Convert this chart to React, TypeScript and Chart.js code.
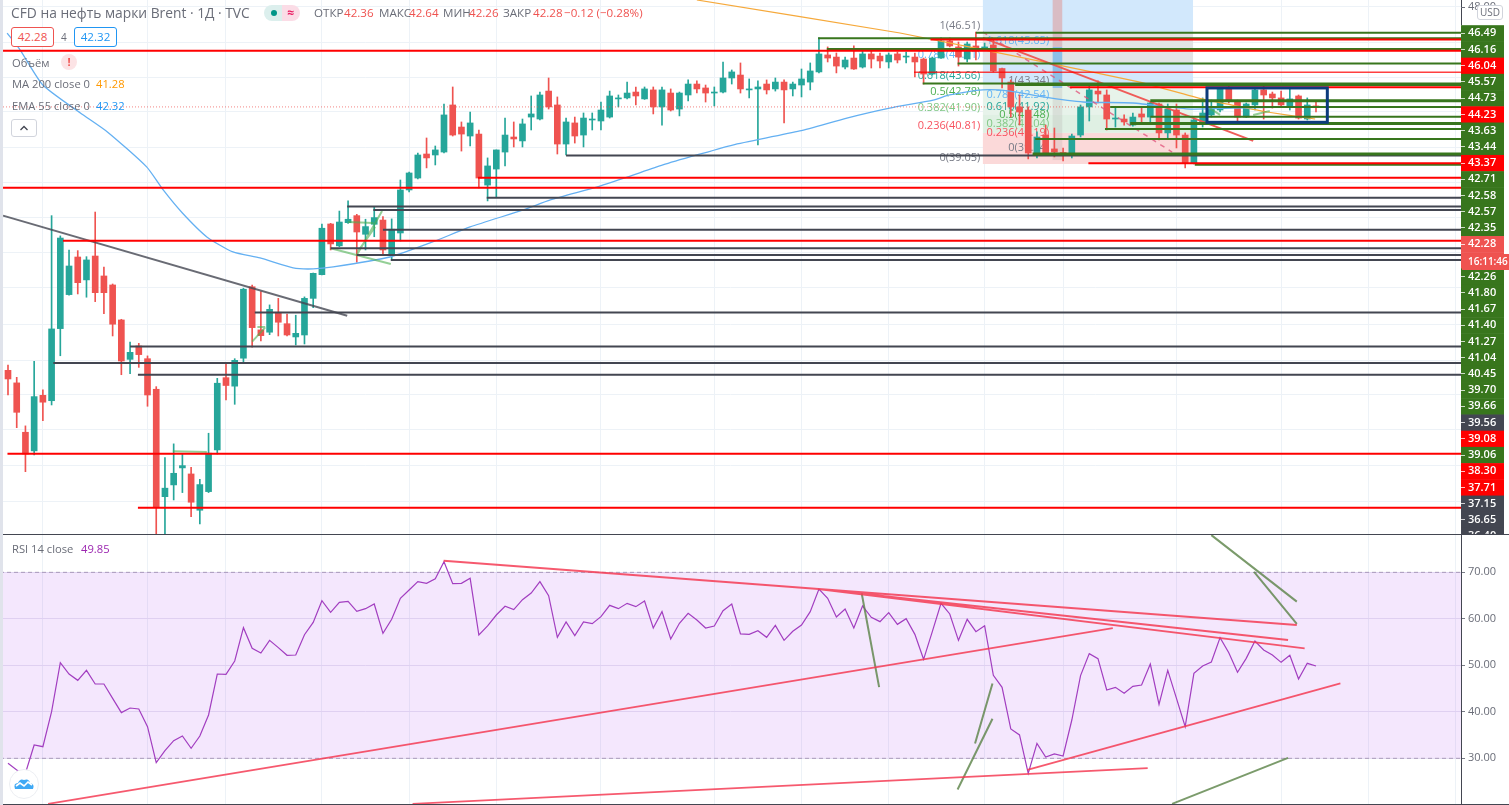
import React, { useEffect, useRef } from "react";
import { Chart, registerables } from "chart.js";

Chart.register(...registerables);

const FONT = '"Open Sans", sans-serif';

// ---------- Candles (session index = array position) ----------
const opens = [25.88,25.11,22.09,20.95,24.35,24.02,28.43,30.51,32.81,31.41,32.87,31.65,31.10,28.96,26.55,27.37,26.59,24.72,18.15,18.87,19.91,19.54,17.32,18.46,21.01,25.43,24.91,26.62,30.99,28.35,28.21,29.43,28.73,27.92,28.04,30.28,31.73,34.83,33.49,34.91,35.34,34.20,34.81,35.07,32.98,34.28,36.91,37.64,39.11,39.05,39.23,42.11,40.76,40.21,40.33,37.21,38.19,39.23,40.15,39.91,41.37,41.25,42.96,42.11,39.72,41.01,40.27,41.19,41.13,41.37,42.48,42.54,42.90,42.48,43.03,41.99,42.84,41.86,42.72,43.39,43.15,42.84,42.90,43.76,43.94,43.03,43.09,43.39,43.09,43.51,43.09,43.33,43.51,44.13,45.17,45.04,44.43,44.98,44.43,45.23,45.10,44.74,45.23,45.04,45.04,44.92,44.00,44.98,46.02,45.66,44.92,45.72,45.53,45.78,44.34,43.51,41.99,41.80,39.11,40.27,39.42,39.17,39.11,40.27,41.99,42.96,42.72,41.25,41.25,40.88,41.56,41.37,42.17,40.40,41.80,40.27,38.56,40.95,41.50,41.80,43.09,42.29,41.37,42.11,43.03,42.78,42.54,42.05,42.66,41.25,42.05];
const highs = [26.20,25.45,22.48,26.43,24.68,35.34,34.10,33.24,33.20,32.83,35.56,32.20,31.16,29.00,27.60,27.53,26.76,24.88,20.54,21.38,20.76,19.95,19.21,22.03,25.39,26.37,26.59,30.90,31.10,30.69,29.88,30.28,29.32,29.25,30.37,31.83,34.83,34.87,35.62,36.24,35.42,35.12,35.85,35.28,35.14,37.52,38.01,39.17,40.09,39.60,42.17,43.21,41.07,41.68,40.58,38.87,39.36,41.31,41.07,41.25,42.66,42.90,43.76,42.60,41.31,41.37,41.62,41.62,42.29,42.96,42.72,43.51,43.21,43.21,43.21,43.21,43.09,42.90,43.64,43.58,43.33,43.21,44.74,44.25,44.68,43.70,43.58,43.64,43.76,43.64,43.51,44.31,44.68,46.21,45.66,45.29,45.04,45.72,45.53,45.41,45.29,45.29,45.35,45.35,45.29,44.98,45.04,46.21,46.21,45.96,45.96,46.57,45.90,46.08,44.37,43.64,42.72,41.99,40.46,40.88,40.70,39.48,40.33,42.11,43.27,43.58,43.03,41.92,41.50,41.62,41.92,42.29,42.23,42.17,42.17,40.40,41.31,42.54,42.41,43.15,43.27,42.41,42.23,43.15,43.27,42.90,42.96,43.09,42.72,42.54,42.35];
const lows = [24.37,22.37,19.68,20.70,22.80,23.76,26.77,30.47,30.55,30.35,30.08,29.34,27.98,25.61,25.67,26.06,23.68,15.09,15.09,17.95,18.40,16.93,16.48,18.40,20.76,24.07,23.80,26.31,27.29,27.67,28.06,27.98,27.98,27.43,27.49,29.71,31.71,33.24,33.44,34.87,32.49,33.24,34.05,32.98,32.63,33.79,36.79,37.58,38.26,38.44,39.17,40.21,39.29,39.60,37.03,36.24,36.48,38.38,39.54,39.54,40.58,41.19,41.86,39.11,39.05,39.78,39.54,40.58,40.58,41.31,41.99,42.48,42.11,42.45,41.56,40.88,41.74,41.44,42.35,42.84,42.29,42.05,42.84,43.39,42.84,42.54,39.66,42.78,42.96,41.01,42.66,42.60,43.03,44.07,44.74,44.07,44.31,44.28,44.37,44.37,44.37,44.37,44.68,44.68,43.82,43.39,43.94,44.95,45.66,44.49,44.74,44.86,45.47,44.13,43.15,41.37,40.88,38.81,38.87,39.11,38.93,38.68,38.87,40.15,41.13,42.23,40.58,40.76,40.88,40.82,41.07,41.07,39.97,40.03,39.48,38.26,38.50,40.76,41.37,41.68,42.23,41.01,41.34,41.80,41.25,41.92,41.99,41.80,41.25,41.19,41.68];
const closes = [25.35,23.31,20.76,24.27,23.93,28.41,33.97,32.26,31.24,32.63,30.63,30.63,28.70,26.45,26.98,26.84,24.37,17.48,18.67,19.58,20.05,17.81,18.89,20.81,25.09,24.95,26.49,30.84,28.49,28.00,29.61,28.82,28.04,28.14,30.28,31.81,34.57,33.61,34.95,35.12,34.34,34.67,35.22,33.24,34.51,36.91,37.95,39.05,38.87,39.36,41.50,40.27,40.33,41.01,37.64,38.38,39.36,40.27,40.03,40.95,41.56,42.72,41.99,39.72,41.07,40.21,41.31,41.25,41.80,42.66,42.54,42.84,42.66,43.09,41.99,43.03,41.80,42.84,43.39,43.09,42.84,42.90,43.76,44.13,43.09,43.09,43.21,43.03,43.51,43.03,43.39,43.70,44.19,45.23,44.98,44.49,44.86,44.31,45.23,44.92,44.80,45.17,44.86,45.10,44.74,44.00,44.98,46.02,45.72,45.04,45.84,45.41,45.66,44.19,43.76,41.99,41.68,39.17,40.15,39.17,39.23,39.14,40.21,41.99,43.03,42.78,41.25,41.31,41.07,41.37,41.37,42.23,40.40,41.86,40.27,38.56,41.19,41.62,41.92,43.09,42.35,41.37,42.17,43.03,42.72,42.54,42.11,42.48,41.31,42.11,41.99];

const lastPrice = 41.99;

// ---------- Moving averages, sparse readings: session index / price ----------
const emaSessions = [-0.1,1.4,4.0,8.3,11.4,15.9,17.8,20.0,22.8,25.8,28.9,32.7,35.0,37.3,43.8,48.7,53.0,59.1,62.2,67.5,71.0,75.1,79.0,83.1,90.8,96.2,101.1,106.1,108.0,111.8,114.9,118.7,123.3,129.0,135.6,140.5,149.9];
const emaPrices = [46.51,45.47,43.33,41.62,40.46,38.32,36.91,35.50,34.04,33.12,32.75,32.14,32.08,32.20,32.81,33.73,34.65,35.69,36.30,37.09,37.70,38.44,39.05,39.66,40.52,41.31,41.92,42.41,42.72,43.03,42.96,42.60,42.29,42.23,41.86,41.92,41.99];
const maSessions = [79.0,102.3,118.7,129.8,136.9,144.4,149.9];
const maPrices = [48.53,46.51,44.74,43.51,42.48,41.68,41.25];

// ---------- Horizontal levels: [first session, price] ----------
const redLevels = [[-0.57,45.43],[-0.57,37.05],[6.3,33.80],[-0.06,20.78],[14.9,17.48],[53.9,37.66],[105.8,46.11],[121.8,43.19],[123.9,38.54]];
const thinRedLevels = [[103.9,44.11]];
const greenLevels = [[111,46.53],[92.9,46.19],[93.9,45.53],[108.9,44.65],[104.9,43.43],[115.5,43.33],[126.4,41.99],[131,41.39],[125.8,40.64],[117.8,40.03],[136.1,38.46]];
const thickGreenLevels = [[131,42.37],[128.7,40.97],[117.5,39.11]];
const grayLevels = [[54.9,36.44],[38.9,35.90],[41.9,35.69],[43,34.47],[37,33.34],[40,32.94],[43.9,32.63],[28.3,29.41],[14,27.33],[5.2,26.33],[14.9,25.61],[64,39.02]];

// ---------- Sloped drawings: [session, price, session, price] ----------
const grayTrend = [[-0.57,35.34,38.9,29.22]];
const redTrend = [[111.8,46.21,142.8,39.91]];
const dashedTrend = [[111.8,46.57,133.5,39.23]];
const lightGreenMarks = [[37.0,33.34,43.9,32.38],[40,32.94,42.9,35.63],[40.1,33.12,42.1,34.65],[39,34.95,41.9,34.89],[28,27.63,29.5,28.51],[28.6,28.53,29.5,28.53],[18.9,20.93,22.8,20.89],[137.8,41.92,139,41.50],[142.8,41.50,144.7,41.74]];

// ---------- Shaded zones: [session, session, price, price] ----------
const fibZones = [
  [111.8,135.9,48.53,43.45],[111.8,135.9,46.51,44.74],[111.8,135.9,43.45,41.50],[111.8,135.9,41.50,40.40],[111.8,135.9,40.40,38.50],
  [119.8,120.9,48.53,45.66],[119.8,120.9,45.66,43.15],[119.8,120.9,43.15,38.74],
];
const fibZoneColors = ["#d2e8fc","#e3e3e5","#e7f3ea","#dff0e3","#fbd9d9","#d9bcc4","#8dbfe8","rgba(170,160,160,0.22)"];
const boxZone = [137.5,151.3,43.15,41.05];

// ---------- Fibonacci captions ----------
const fibTexts = ["1(46.51)","0.786(44.91)","0.618(43.66)","0.5(42.78)","0.382(41.90)","0.236(40.81)","0(39.05)","1.618(45.65)","1(43.34)","0.786(42.54)","0.618(41.92)","0.5(41.48)","0.382(41.04)","0.236(40.19)","0(39.34)"];
const fibSessions = [111.5,111.5,111.5,111.5,111.5,111.5,111.5,119.4,119.4,119.4,119.4,119.4,119.4,119.4,119.4];
const fibPrices = [46.97,45.17,43.88,42.90,41.95,40.82,38.87,46.02,43.58,42.72,41.99,41.50,40.98,40.40,39.48];
const fibColors = ["#787b86","#64b5f6","#26a69a","#4caf50","#81c784","#f7525f","#787b86","#64b5f6","#787b86","#64b5f6","#26a69a","#4caf50","#81c784","#f7525f","#787b86"];

// ---------- Axis ----------
const axisLabels = ["46.49","46.16","46.04","45.57","44.73","44.23","43.63","43.44","43.37","42.71","42.58","42.57","42.35","42.28","16:11:46","42.26","41.80","41.67","41.40","41.27","41.04","40.45","39.70","39.66","39.56","39.08","39.06","38.30","37.71","37.15","36.65","36.40"];
const axisKinds = ["g","g","r","g","g","r","g","g","r","g","g","g","g","s","t","g","g","g","g","g","g","g","g","g","d","r","g","r","r","d","d","d"];
const axisFills: Record<string, string> = { g: "#38761d", r: "#ff0000", d: "#434651", s: "#ef5350", t: "#ef5350" };
const topAxisLabel = "48.00";
const priceGrid = [48.16,45.96,43.82,41.68,39.48,37.34,35.20,33.06,30.92,28.71,26.51,24.37,22.23,20.03,17.83];
const timeGrid = [4,16,25,36,46,56,68,81,91,101,112,121,134,146,156,166];

// ---------- RSI ----------
const rsiValues = [28.92,27.5,26.8,32.86,32.50,40.03,50.57,48.13,46.77,48.92,45.98,45.98,42.90,39.82,40.82,40.61,36.81,29.07,31.65,33.80,34.80,32.15,34.80,39.32,48.13,48.06,50.93,58.10,53.65,52.65,55.37,53.80,52.15,52.22,56.59,59.24,63.90,61.40,63.55,63.76,61.61,62.18,63.19,56.88,59.89,64.41,66.20,67.99,67.63,68.63,72.29,67.56,67.63,68.71,56.52,58.46,60.82,62.69,61.97,64.12,65.55,67.99,64.98,56.02,59.32,56.38,59.32,58.96,60.46,62.90,62.18,63.33,62.61,63.83,58.03,61.54,55.66,59.03,61.18,59.75,58.03,58.46,61.75,63.19,56.74,56.66,57.45,56.02,58.60,55.37,57.31,58.67,61.54,66.41,64.41,60.39,62.11,58.03,62.76,60.32,59.39,61.32,58.81,60.03,56.66,51.29,57.24,63.33,61.04,55.37,59.89,57.24,58.53,47.85,45.27,36.31,35.02,26.77,33.22,30.29,30.93,30.50,38.24,47.78,52.51,51.43,44.69,45.27,43.98,45.48,45.77,50.28,41.61,48.92,42.90,36.81,48.28,49.85,50.71,55.95,52.72,48.49,51.50,55.23,53.30,52.22,50.64,52.15,47.06,50.43,49.85];
const rsiTicks = [30,40,50,60,70];
const rsiBandLimits = [70,30];
const rsiRedTrends = [[49.96,72.49,147.8,58.67],[92.9,66.41,146.8,55.44],[92.9,66.41,148.7,53.66],[4.6,20.2,126.7,58.0],[46.4,20.2,130.7,27.9],[116.9,27.5,152.8,46.1]];
const rsiGreenTrends = [[97.9,65.5,99.9,45.3],[112.9,46.1,110.9,33.2],[112.9,38.5,108.9,23.3],[138.0,78.0,147.8,63.7],[142.9,70.1,147.8,58.9],[133.5,20.2,146.8,30.1]];

// ---------- Scale limits ----------
const sessionMin = -0.917;
const sessionMax = 166.63;
const priceMin = 15.5;
const priceMax = 48.53;
const rsiMin = 19.96;
const rsiMax = 78.24;
const slotMin = -2.053;
const slotMax = 31.24;
const topLabelSlot = -1.6;

const segDataset = (segs: number[][], color: string, width: number, order: number, dash?: number[]) => ({
  type: "line" as const,
  data: segs.flatMap((s) => [{ x: s[0], y: s[1] }, { x: s[2], y: s[3] }, { x: s[2], y: null as any }]),
  borderColor: color,
  borderWidth: width,
  borderDash: dash,
  pointRadius: 0,
  spanGaps: false,
  tension: 0,
  order,
  xAxisID: "x",
  yAxisID: "y",
});
const levelSegs = (levels: number[][]) => levels.map((l) => [l[0], l[1], sessionMax, l[1]]);

const noPad = (s: any) => {
  s.paddingTop = 0;
  s.paddingBottom = 0;
  s.paddingLeft = 0;
  s.paddingRight = 0;
};

const timeAxis = (): any => ({
  type: "linear",
  min: sessionMin,
  max: sessionMax,
  offset: false,
  afterBuildTicks: (s: any) => { s.ticks = timeGrid.map((value) => ({ value })); },
  afterFit: (s: any) => { s.height = 0; noPad(s); },
  ticks: { display: false, autoSkip: false },
  grid: { color: "#edf2f7", drawTicks: false, offset: false },
  border: { display: false },
});

function PriceChart() {
  const ref = useRef<HTMLCanvasElement>(null);
  useEffect(() => {
    const up = closes.map((c, i) => c >= opens[i]);
    const zones = {
      id: "zones",
      beforeDatasetsDraw(chart: any) {
        const { ctx, scales: { x, y } } = chart;
        ctx.save();
        fibZones.forEach((z, i) => {
          ctx.fillStyle = fibZoneColors[i];
          ctx.fillRect(x.getPixelForValue(z[0]), y.getPixelForValue(z[2]), x.getPixelForValue(z[1]) - x.getPixelForValue(z[0]), y.getPixelForValue(z[3]) - y.getPixelForValue(z[2]));
        });
        ctx.font = `11px ${FONT}`;
        ctx.textAlign = "right";
        ctx.textBaseline = "middle";
        fibTexts.forEach((t, i) => {
          ctx.fillStyle = fibColors[i];
          ctx.fillText(t, x.getPixelForValue(fibSessions[i]), y.getPixelForValue(fibPrices[i]));
        });
        ctx.restore();
      },
      afterDatasetsDraw(chart: any) {
        const { ctx, scales: { x, y } } = chart;
        ctx.save();
        ctx.strokeStyle = "#0c3b7c";
        ctx.lineWidth = 3;
        ctx.strokeRect(x.getPixelForValue(boxZone[0]), y.getPixelForValue(boxZone[2]), x.getPixelForValue(boxZone[1]) - x.getPixelForValue(boxZone[0]), y.getPixelForValue(boxZone[3]) - y.getPixelForValue(boxZone[2]));
        ctx.restore();
      },
      beforeDraw(chart: any) {
        const { ctx, chartArea, scales } = chart;
        const s = scales.yLabels;
        const h = Math.abs(s.getPixelForValue(1) - s.getPixelForValue(0));
        ctx.save();
        axisLabels.forEach((_, i) => {
          const kind = axisKinds[i];
          const mid = s.getPixelForValue(i);
          ctx.fillStyle = axisFills[kind];
          ctx.fillRect(chartArea.right, mid - h / 2, 43, h + 0.5);
        });
        const tm = s.getPixelForValue(axisKinds.indexOf("t") + 0.1);
        ctx.fillStyle = axisFills.t;
        ctx.fillRect(chartArea.right + 1, tm - 8, 47, 16);
        ctx.fillStyle = "#434651";
        ctx.fillRect(chartArea.right, 0, 1, s.getPixelForValue(0) - h / 2);
        ctx.restore();
      },
    };
    const chart = new Chart(ref.current!, {
      type: "bar",
      data: {
        datasets: [
          segDataset(levelSegs(redLevels), "#ff0000", 2, 1),
          segDataset(levelSegs(thinRedLevels), "rgba(255,0,0,0.75)", 1.5, 1),
          segDataset(levelSegs(greenLevels), "#38761d", 2, 1),
          segDataset(levelSegs(thickGreenLevels), "#38761d", 3, 1),
          segDataset(levelSegs(grayLevels), "#434651", 2, 1),
          segDataset(grayTrend, "rgba(67,70,81,0.8)", 2, 1),
          segDataset(redTrend, "rgba(239,83,80,0.95)", 2, 1),
          segDataset(dashedTrend, "rgba(224,80,120,0.75)", 1.5, 1, [5, 5]),
          segDataset(lightGreenMarks, "rgba(76,175,80,0.6)", 2, 1),
          { type: "line" as const, data: [{ x: sessionMin, y: lastPrice }, { x: sessionMax, y: lastPrice }], borderColor: "rgba(239,83,80,0.7)", borderWidth: 1, borderDash: [1, 2], pointRadius: 0, order: 1, xAxisID: "x", yAxisID: "y" },
          { type: "line" as const, data: emaSessions.map((x, i) => ({ x, y: emaPrices[i] })), borderColor: "#64b0f2", borderWidth: 1.3, pointRadius: 0, tension: 0.2, order: 2, xAxisID: "x", yAxisID: "y" },
          { type: "line" as const, data: maSessions.map((x, i) => ({ x, y: maPrices[i] })), borderColor: "#f6a93b", borderWidth: 1.2, pointRadius: 0, tension: 0.1, order: 2, xAxisID: "x", yAxisID: "y" },
          { type: "bar" as const, data: opens.map((o, i) => ({ x: i, y: [Math.min(o, closes[i]), Math.max(o, closes[i])] })), backgroundColor: up.map((u) => (u ? "#26a69a" : "#ef5350")), barThickness: 6, minBarLength: 1, grouped: false, order: 3, xAxisID: "x", yAxisID: "y" } as any,
          { type: "bar" as const, data: lows.map((l, i) => ({ x: i, y: [l, highs[i]] })), backgroundColor: up.map((u) => (u ? "#26a69a" : "#ef5350")), barThickness: 1, grouped: false, order: 4, xAxisID: "x", yAxisID: "y" } as any,
        ],
      },
      options: {
        animation: false,
        responsive: false,
        layout: { padding: 0 },
        plugins: { legend: { display: false }, tooltip: { enabled: false } },
        events: [],
        scales: {
          x: timeAxis(),
          y: {
            type: "linear",
            position: "right",
            min: priceMin,
            max: priceMax,
            beginAtZero: false,
            afterBuildTicks: (s: any) => { s.ticks = priceGrid.map((value) => ({ value })); },
            afterFit: (s: any) => { s.width = 0; noPad(s); },
            ticks: { display: false, autoSkip: false },
            grid: { color: "#edf2f7", drawTicks: false },
            border: { display: false },
          },
          yLabels: {
            axis: "y",
            type: "linear",
            position: "right",
            min: slotMin,
            max: slotMax,
            reverse: true,
            beginAtZero: false,
            afterBuildTicks: (s: any) => {
              s.ticks = [{ value: topLabelSlot }, ...axisLabels.map((_, i) => ({ value: axisKinds[i] === "t" ? i + 0.1 : i }))];
            },
            afterFit: (s: any) => { s.width = 48; noPad(s); },
            ticks: {
              autoSkip: false,
              padding: 3,
              font: (c: any) => ({ family: FONT, size: axisKinds[c.index - 1] === "t" ? 10 : 11, weight: c.index === 0 ? "400" : "600" }),
              color: (c: any) => (c.index === 0 ? "#6a6d78" : "#ffffff"),
              callback: (_v: any, i: number) => (i === 0 ? topAxisLabel : axisLabels[i - 1]),
            },
            grid: { drawOnChartArea: false, tickLength: 4, tickColor: (c: any) => (c.index === 0 ? "#6a6d78" : axisKinds[c.index - 1] === "t" ? "rgba(0,0,0,0)" : "rgba(255,255,255,0.75)") },
            border: { display: false },
          },
        },
      } as any,
      plugins: [zones],
    });
    return () => chart.destroy();
  }, []);
  return <canvas ref={ref} width={1509} height={540} style={{ position: "absolute", left: 0, top: 0, display: "block" }} />;
}

function RsiChart() {
  const ref = useRef<HTMLCanvasElement>(null);
  useEffect(() => {
    const frame = {
      id: "frame",
      beforeDatasetsDraw(chart: any) {
        const { ctx, chartArea, scales: { y } } = chart;
        ctx.save();
        ctx.fillStyle = "rgba(155,38,238,0.11)";
        const t = y.getPixelForValue(rsiBandLimits[0]);
        const b = y.getPixelForValue(rsiBandLimits[1]);
        ctx.fillRect(chartArea.left, t, chartArea.right - chartArea.left, b - t);
        ctx.restore();
      },
      afterDraw(chart: any) {
        const { ctx, width, height } = chart;
        ctx.save();
        ctx.fillStyle = "#434651";
        ctx.fillRect(0, 0, width, 1);
        ctx.fillRect(0, height - 1, width, 1);
        ctx.restore();
      },
    };
    const chart = new Chart(ref.current!, {
      type: "line",
      data: {
        datasets: [
          segDataset(rsiBandLimits.map((v) => [sessionMin, v, sessionMax, v]), "rgba(120,100,140,0.55)", 1, 5, [4, 3]),
          segDataset(rsiRedTrends, "rgba(245,60,85,0.85)", 1.8, 1),
          segDataset(rsiGreenTrends, "rgba(90,130,70,0.8)", 2, 1),
          { type: "line" as const, data: rsiValues.map((y, x) => ({ x, y })), borderColor: "#a23ec0", borderWidth: 1.2, pointRadius: 0, tension: 0, order: 2, xAxisID: "x", yAxisID: "y" },
        ],
      },
      options: {
        animation: false,
        responsive: false,
        layout: { padding: 0 },
        plugins: { legend: { display: false }, tooltip: { enabled: false } },
        events: [],
        scales: {
          x: timeAxis(),
          y: {
            type: "linear",
            position: "right",
            min: rsiMin,
            max: rsiMax,
            afterBuildTicks: (s: any) => { s.ticks = rsiTicks.map((value) => ({ value })); },
            afterFit: (s: any) => { s.width = 48; noPad(s); },
            ticks: {
              autoSkip: false,
              padding: 3,
              font: { family: FONT, size: 11 },
              color: "#6a6d78",
              callback: (v: any) => Number(v).toFixed(2),
            },
            grid: { color: "#e8e6f2", tickLength: 4, tickColor: "#787b86" },
            border: { display: true, color: "#434651", width: 1 },
          },
        },
      } as any,
      plugins: [frame],
    });
    return () => chart.destroy();
  }, []);
  return <canvas ref={ref} width={1509} height={271} style={{ position: "absolute", left: 0, top: 534, display: "block", background: "#fff" }} />;
}

const text = (left: number, top: number, color: string, content: string, extra: React.CSSProperties = {}) => (
  <div style={{ position: "absolute", left, top, color, font: `11.2px ${FONT}`, lineHeight: "16px", whiteSpace: "nowrap", ...extra }}>{content}</div>
);

export default function App() {
  const gray = "#6a6d78";
  const red = "#ef5350";
  const ohlc = { fontSize: 11.6 };
  return (
    <div style={{ position: "relative", width: 1509, height: 805, overflow: "hidden", background: "#fff" }}>
      <style>{"html,body{margin:0;padding:0;overflow:hidden;background:#fff}"}</style>
      <PriceChart />
      <RsiChart />
      <div style={{ position: "absolute", left: 0, top: 0, width: 3, height: 805, background: "#e0e3eb" }} />
      {text(11, 5, gray, "CFD на нефть марки Brent · 1Д · TVC", { fontSize: 13.8 })}
      <div style={{ position: "absolute", left: 264, top: 5, width: 36, height: 16, borderRadius: 8, overflow: "hidden", display: "flex" }}>
        <div style={{ width: 18, background: "#dcefed", position: "relative" }}>
          <div style={{ position: "absolute", left: 7, top: 5, width: 6, height: 6, borderRadius: 3, background: "#009688" }} />
        </div>
        <div style={{ width: 18, background: "#fbdce6", color: "#e91e63", font: `bold 12px ${FONT}`, lineHeight: "15px", textAlign: "center" }}>≈</div>
      </div>
      {text(314, 5, gray, "ОТКР", ohlc)}
      {text(344, 5, red, "42.36", ohlc)}
      {text(379, 5, gray, "МАКС", ohlc)}
      {text(409, 5, red, "42.64", ohlc)}
      {text(443, 5, gray, "МИН", ohlc)}
      {text(469, 5, red, "42.26", ohlc)}
      {text(503, 5, gray, "ЗАКР", ohlc)}
      {text(533, 5, red, "42.28", ohlc)}
      {text(564, 5, red, "−0.12 (−0.28%)", ohlc)}
      <div style={{ position: "absolute", left: 11, top: 27, width: 43, height: 20, boxSizing: "border-box", border: `1px solid ${red}`, borderRadius: 3, background: "#fff", color: red, font: `11.6px ${FONT}`, lineHeight: "18px", textAlign: "center" }}>42.28</div>
      {text(61, 29, gray, "4", { fontSize: 10 })}
      <div style={{ position: "absolute", left: 74, top: 27, width: 43, height: 20, boxSizing: "border-box", border: "1px solid #2196f3", borderRadius: 3, background: "#fff", color: "#2196f3", font: `11.6px ${FONT}`, lineHeight: "18px", textAlign: "center" }}>42.32</div>
      {text(12, 55, gray, "Объём")}
      <div style={{ position: "absolute", left: 61, top: 54, width: 16, height: 16, borderRadius: 8, background: "#fce3e5", color: red, font: `bold 11px ${FONT}`, lineHeight: "16px", textAlign: "center" }}>!</div>
      {text(12, 76, gray, "MA 200 close 0")}
      {text(96, 76, "#ff9800", "41.28")}
      {text(12, 98, gray, "EMA 55 close 0")}
      {text(96, 98, "#2196f3", "42.32")}
      <div style={{ position: "absolute", left: 11, top: 119, width: 26, height: 18, boxSizing: "border-box", border: "1px solid #d1d4dc", borderRadius: 3, background: "#fff" }}>
        <svg width="24" height="16" style={{ display: "block" }}><path d="M8.5 10 L12 6.5 L15.5 10" fill="none" stroke="#434651" strokeWidth="1.3" /></svg>
      </div>
      <div style={{ position: "absolute", left: 1477, top: 5, width: 26, height: 15, boxSizing: "border-box", border: "1px solid #d1d4dc", borderRadius: 3, background: "#fff", color: gray, font: `10px ${FONT}`, lineHeight: "13px", textAlign: "center" }}>USD</div>
      {text(12, 541, gray, "RSI 14 close")}
      {text(81, 541, "#9c27b0", "49.85")}
      <div style={{ position: "absolute", left: 9, top: 769, width: 30, height: 30, boxSizing: "border-box", borderRadius: 15, border: "1px solid #eceef2", background: "#fff" }}>
        <svg width="28" height="28" style={{ display: "block" }}>
          <path d="M5 19 Q3 13 8 13 Q10 8 14 10 Q19 8 20 13 Q25 14 23 19 Z" fill="#3fa9f5" />
          <path d="M6 16 L10 13 L14 16 L18 12 L22 15" fill="none" stroke="#fff" strokeWidth="1.6" />
        </svg>
      </div>
    </div>
  );
}
